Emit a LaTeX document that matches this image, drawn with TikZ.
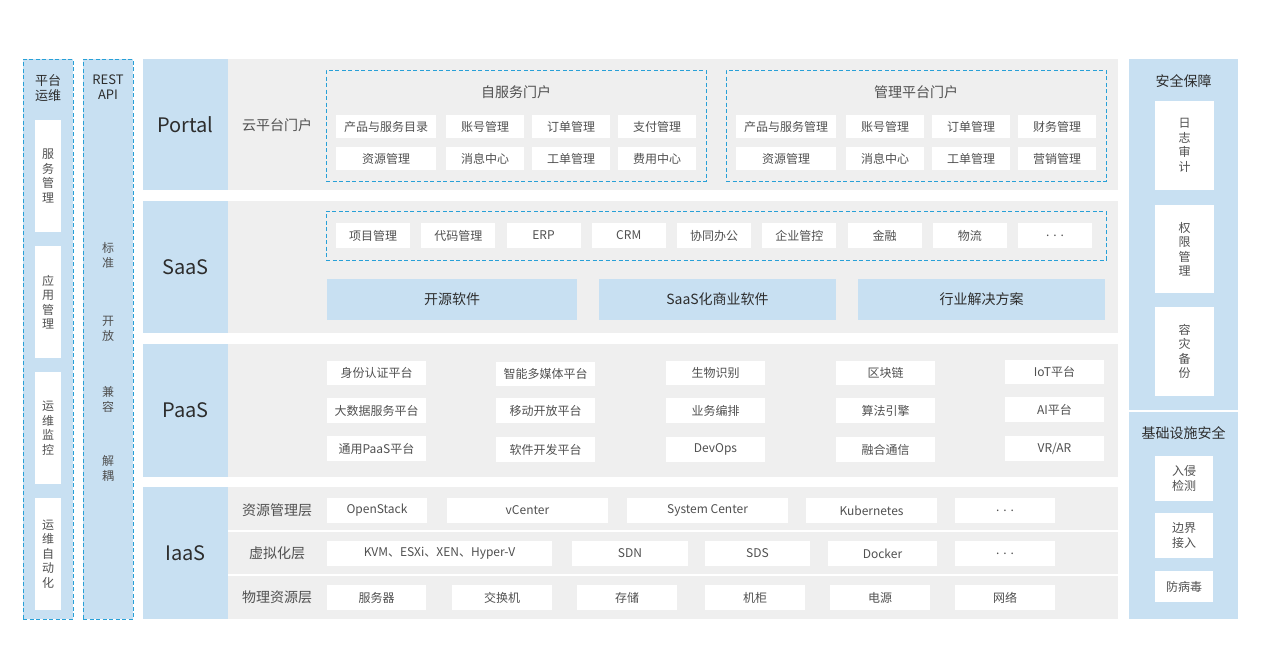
\documentclass[tikz,border=0pt]{standalone}
\usepackage{fontspec}
\setmainfont{Noto Sans CJK SC}
\definecolor{lblue}{RGB}{200,224,242}
\definecolor{lgrey}{RGB}{239,239,239}
\definecolor{dblue}{RGB}{40,160,215}
\definecolor{txt}{RGB}{80,80,80}
\definecolor{ttl}{RGB}{45,45,45}
\newcommand\fs[2]{\fontsize{#1}{#2}\selectfont}
\newcommand\mybox[7]{%
  \pgfmathsetmacro\myw{#5-#3}%
  \pgfmathsetmacro\myh{#6-#4}%
  \node[#1, minimum width=\myw pt, minimum height=\myh pt, anchor=north west] (#2) at (#3,#4) {#7};}
\tikzset{
  base/.style={inner sep=0pt, outer sep=0pt, draw=none},
  cell/.style={base, fill=white, text=txt, font=\fs{12}{14.5}, align=center},
  bcell/.style={base, fill=lblue, text=ttl, font=\fs{14}{16}, align=center},
  panel/.style={base, fill=lgrey},
  lab/.style={base, fill=lblue, text=ttl, font=\fs{20}{24}},
  side/.style={base, fill=lblue},
  dbox/.style={inner sep=0pt, outer sep=0pt, draw=dblue, dash pattern=on 4pt off 2.5pt, line width=1pt},
  dside/.style={dbox, fill=lblue},
  ttext/.style={text=ttl, font=\fs{14}{16}, align=center, inner sep=0pt},
  vtext/.style={text=ttl, font=\fs{13}{15.5}, align=center, inner sep=0pt},
  sub/.style={text=txt, font=\fs{14}{16}, inner sep=0pt},
}
\begin{document}
\begin{tikzpicture}[x=1pt,y=-1pt]
\useasboundingbox (0,0) rectangle (1271,667);
\fill[white] (0,0) rectangle (1271,667);

% ---------- left columns ----------
\mybox{dside}{opcol}{23}{59}{73}{619}{}
\node[vtext] (optitle) at (48,88) {平台\\运维};
\mybox{cell}{op1}{35}{120}{61}{232}{服\\务\\管\\理}
\mybox{cell}{op2}{35}{246}{61}{358}{应\\用\\管\\理}
\mybox{cell}{op3}{35}{372}{61}{484}{运\\维\\监\\控}
\mybox{cell}{op4}{35}{498}{61}{610}{运\\维\\自\\动\\化}

\mybox{dside}{apicol}{83}{59}{133}{619}{}
\node[vtext] (apititle) at (108,87) {REST\\API};
\node[vtext, text=txt, font=\fs{12}{15}] (api1) at (108,255) {标\\准};
\node[vtext, text=txt, font=\fs{12}{15}] (api2) at (108,329) {开\\放};
\node[vtext, text=txt, font=\fs{12}{15}] (api3) at (108,399) {兼\\容};
\node[vtext, text=txt, font=\fs{12}{15}] (api4) at (108,468) {解\\耦};

% ---------- main rows ----------
\mybox{panel}{portal}{143}{59}{1118}{190}{}
\mybox{lab}{portallab}{143}{59}{228}{190}{Portal}
\mybox{panel}{saas}{143}{201}{1118}{333}{}
\mybox{lab}{saaslab}{143}{201}{228}{333}{SaaS}
\mybox{panel}{paas}{143}{344}{1118}{477}{}
\mybox{lab}{paaslab}{143}{344}{228}{477}{PaaS}
\mybox{panel}{iaas}{143}{487}{1118}{619}{}
\mybox{lab}{iaaslab}{143}{487}{228}{619}{IaaS}

% ---------- Portal ----------
\node[sub] (cloudportal) at (277,125) {云平台门户};
\mybox{dbox}{selfp}{326}{70}{706}{181}{}
\node[ttext, text=txt] (selft) at (516,92) {自服务门户};
\mybox{cell}{p11}{336}{115}{436}{138}{产品与服务目录}
\mybox{cell}{p12}{446}{115}{524}{138}{账号管理}
\mybox{cell}{p13}{532}{115}{610}{138}{订单管理}
\mybox{cell}{p14}{618}{115}{696}{138}{支付管理}
\mybox{cell}{p15}{336}{147}{436}{170}{资源管理}
\mybox{cell}{p16}{446}{147}{524}{170}{消息中心}
\mybox{cell}{p17}{532}{147}{610}{170}{工单管理}
\mybox{cell}{p18}{618}{147}{696}{170}{费用中心}

\mybox{dbox}{mgmtp}{726}{70}{1106}{181}{}
\node[ttext, text=txt] (mgmtt) at (916,92) {管理平台门户};
\mybox{cell}{m11}{736}{115}{836}{138}{产品与服务管理}
\mybox{cell}{m12}{846}{115}{924}{138}{账号管理}
\mybox{cell}{m13}{932}{115}{1010}{138}{订单管理}
\mybox{cell}{m14}{1018}{115}{1096}{138}{财务管理}
\mybox{cell}{m15}{736}{147}{836}{170}{资源管理}
\mybox{cell}{m16}{846}{147}{924}{170}{消息中心}
\mybox{cell}{m17}{932}{147}{1010}{170}{工单管理}
\mybox{cell}{m18}{1018}{147}{1096}{170}{营销管理}

% ---------- SaaS ----------
\mybox{dbox}{saasd}{326}{211}{1106}{260}{}
\foreach \i/\t in {0/项目管理,1/代码管理,2/ERP,3/CRM,4/协同办公,5/企业管控,6/金融,7/物流,8/{.\hspace{4pt}.\hspace{4pt}.}}{
  \pgfmathsetmacro\xa{336+\i*85.25}
  \pgfmathsetmacro\xb{\xa+74}
  \mybox{cell}{sa\i}{\xa}{223}{\xb}{248}{\t}
}
\mybox{bcell}{sb1}{327}{279}{577}{320}{开源软件}
\mybox{bcell}{sb2}{599}{279}{836}{320}{SaaS化商业软件}
\mybox{bcell}{sb3}{858}{279}{1105}{320}{行业解决方案}

% ---------- PaaS ----------
\mybox{cell}{pa11}{327}{361}{426}{385}{身份认证平台}
\mybox{cell}{pa12}{496}{362}{595}{386}{智能多媒体平台}
\mybox{cell}{pa13}{666}{361}{765}{385}{生物识别}
\mybox{cell}{pa14}{836}{361}{935}{385}{区块链}
\mybox{cell}{pa15}{1005}{360}{1104}{384}{IoT平台}
\mybox{cell}{pa21}{327}{398}{426}{423}{大数据服务平台}
\mybox{cell}{pa22}{496}{398}{595}{423}{移动开放平台}
\mybox{cell}{pa23}{666}{398}{765}{423}{业务编排}
\mybox{cell}{pa24}{836}{398}{935}{423}{算法引擎}
\mybox{cell}{pa25}{1005}{397}{1104}{422}{AI平台}
\mybox{cell}{pa31}{327}{436}{426}{461}{通用PaaS平台}
\mybox{cell}{pa32}{496}{437}{595}{462}{软件开发平台}
\mybox{cell}{pa33}{666}{437}{765}{462}{DevOps}
\mybox{cell}{pa34}{836}{437}{935}{462}{融合通信}
\mybox{cell}{pa35}{1005}{436}{1104}{461}{VR/AR}

% ---------- IaaS ----------
\coordinate (sep1a) at (228,531);
\coordinate (sep1b) at (1118,531);
\coordinate (sep2a) at (228,575);
\coordinate (sep2b) at (1118,575);
\draw[white, line width=1.6pt] (sep1a) -- (sep1b);
\draw[white, line width=1.6pt] (sep2a) -- (sep2b);
\node[sub] (il1) at (277,510) {资源管理层};
\node[sub] (il2) at (277,553) {虚拟化层};
\node[sub] (il3) at (277,597) {物理资源层};
\mybox{cell}{ia11}{327}{498}{427}{523}{OpenStack}
\mybox{cell}{ia12}{447}{498}{608}{523}{vCenter}
\mybox{cell}{ia13}{627}{498}{788}{523}{System Center}
\mybox{cell}{ia14}{806}{498}{937}{523}{Kubernetes}
\mybox{cell}{ia15}{955}{498}{1055}{523}{.\hspace{4pt}.\hspace{4pt}.}
\mybox{cell}{ia21}{327}{541}{552}{566}{KVM、ESXi、XEN、Hyper-V}
\mybox{cell}{ia22}{572}{541}{688}{566}{SDN}
\mybox{cell}{ia23}{705}{541}{810}{566}{SDS}
\mybox{cell}{ia24}{828}{541}{937}{566}{Docker}
\mybox{cell}{ia25}{955}{541}{1055}{566}{.\hspace{4pt}.\hspace{4pt}.}
\mybox{cell}{ia31}{327}{585}{426}{610}{服务器}
\mybox{cell}{ia32}{452}{585}{552}{610}{交换机}
\mybox{cell}{ia33}{577}{585}{677}{610}{存储}
\mybox{cell}{ia34}{705}{585}{805}{610}{机柜}
\mybox{cell}{ia35}{830}{585}{930}{610}{电源}
\mybox{cell}{ia36}{955}{585}{1055}{610}{网络}

% ---------- right column ----------
\mybox{side}{seccol}{1129}{59}{1238}{619}{}
\coordinate (div1) at (1129,411);
\coordinate (div2) at (1238,411);
\draw[white, line width=1.2pt] (div1) -- (div2);
\node[ttext] (sect) at (1183.5,81) {安全保障};
\mybox{cell}{se1}{1155}{101}{1214}{190}{日\\志\\审\\计}
\mybox{cell}{se2}{1155}{205}{1214}{293}{权\\限\\管\\理}
\mybox{cell}{se3}{1155}{307}{1214}{396}{容\\灾\\备\\份}
\node[ttext] (inft) at (1183.5,433) {基础设施安全};
\mybox{cell}{se4}{1155}{456}{1213}{501}{入侵\\检测}
\mybox{cell}{se5}{1155}{513}{1213}{558}{边界\\接入}
\mybox{cell}{se6}{1155}{571}{1213}{602}{防病毒}
\end{tikzpicture}
\end{document}
